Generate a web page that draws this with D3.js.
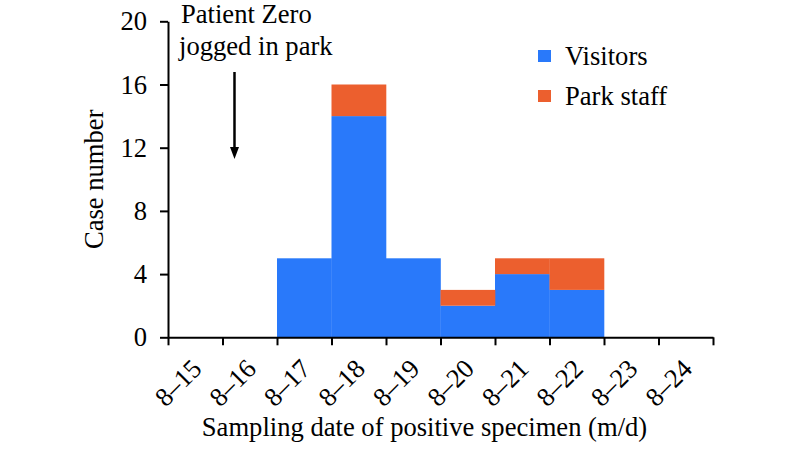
<!DOCTYPE html>
<html>
<head>
<meta charset="utf-8">
<script src="https://cdn.jsdelivr.net/npm/d3@7"></script>
<style>
  html, body { margin: 0; padding: 0; background: #fff; }
  svg { display: block; }
  svg text { font-family: "Liberation Serif", Tinos, "Times New Roman", Times, "DejaVu Serif", serif; }
</style>
</head>
<body>
<svg id="chart" width="794" height="449"></svg>
<script>
const categories = ["8\u201315","8\u201316","8\u201317","8\u201318","8\u201319","8\u201320","8\u201321","8\u201322","8\u201323","8\u201324"];
const visitors   = [0, 0, 5, 14, 5, 2, 4, 3, 0, 0];
const parkStaff  = [0, 0, 0, 2, 0, 1, 1, 2, 0, 0];
const seriesNames = ["Visitors", "Park staff"];
const seriesColors = ["#2979FA", "#EC5F2E"];
const yTicks = [0, 4, 8, 12, 16, 20];
const yTitle = "Case number";
const xTitle = "Sampling date of positive specimen (m/d)";
const annotation = ["Patient Zero", "jogged in park"];
const annotationDay = 1.22; // position along x, in day units

const svg = d3.select("#chart");
const mLeft = 168, mRight = 713, mTop = 21.3, mBottom = 337.3;
const FS = 26.6;
const FF = '"Liberation Serif", Tinos, "Times New Roman", Times, "DejaVu Serif", serif';

const rows = categories.map((c, i) => ({cat: c, "Visitors": visitors[i], "Park staff": parkStaff[i]}));
const stacked = d3.stack().keys(seriesNames)(rows);

const x = d3.scaleBand().domain(categories).range([mLeft, mRight]).padding(0);
const xEdge = d3.scaleLinear().domain([0, categories.length]).range([mLeft, mRight]);
const y = d3.scaleLinear().domain([0, 20]).range([mBottom, mTop]);

// bars
stacked.forEach((s, si) => {
  svg.append("g").attr("fill", seriesColors[si])
    .selectAll("rect").data(s).join("rect")
    .attr("x", d => x(d.data.cat))
    .attr("width", x.bandwidth() + 0.3)
    .attr("y", d => y(d[1]))
    .attr("height", d => y(d[0]) - y(d[1]));
});

// y axis
const yAxis = svg.append("g").attr("transform", `translate(${mLeft},0)`)
  .call(d3.axisLeft(y).tickValues(yTicks).tickSize(8).tickPadding(13).tickSizeOuter(0));
yAxis.attr("font-family", FF).attr("font-size", FS);
yAxis.select(".domain").attr("stroke", "#000").attr("stroke-width", 2);
yAxis.selectAll(".tick line").attr("stroke", "#000").attr("stroke-width", 2);
yAxis.selectAll(".tick text").attr("fill", "#000");

// x axis (ticks at band edges)
const xAxis = svg.append("g").attr("transform", `translate(0,${mBottom})`)
  .call(d3.axisBottom(xEdge).tickValues(d3.range(categories.length + 1)).tickSize(8).tickFormat("").tickSizeOuter(0));
xAxis.select(".domain").attr("stroke", "#000").attr("stroke-width", 2);
xAxis.selectAll(".tick line").attr("stroke", "#000").attr("stroke-width", 2);

// x labels
svg.append("g").attr("font-family", FF).selectAll("text").data(categories).join("text")
  .attr("transform", d => `translate(${x(d) + x.bandwidth()/2 + 8},${mBottom + 33}) rotate(-45)`)
  .attr("text-anchor", "end")
  .attr("font-size", FS)
  .attr("fill", "#000")
  .text(d => d);

// axis titles
svg.append("text").attr("font-family", FF)
  .attr("x", (mLeft + mRight) / 2 - 16).attr("y", 436)
  .attr("text-anchor", "middle").attr("font-size", FS).text(xTitle);
svg.append("text").attr("font-family", FF)
  .attr("transform", `translate(103,${(mTop + mBottom) / 2}) rotate(-90)`)
  .attr("text-anchor", "middle").attr("font-size", FS).text(yTitle);

// legend
const lg = svg.append("g").attr("font-family", FF);
seriesNames.forEach((n, i) => {
  const yy = 56 + i * 40;
  lg.append("rect").attr("x", 538).attr("y", yy - 6).attr("width", 13).attr("height", 12).attr("fill", seriesColors[i]);
  lg.append("text").attr("x", 565).attr("y", yy + 9).attr("font-size", FS).text(n);
});

// annotation
const ax = xEdge(annotationDay);
svg.append("text").attr("font-family", FF).attr("x", 181).attr("y", 23).attr("font-size", FS).text(annotation[0]);
svg.append("text").attr("font-family", FF).attr("x", 179).attr("y", 55).attr("font-size", FS).text(annotation[1]);
svg.append("line").attr("x1", ax).attr("x2", ax).attr("y1", 72).attr("y2", 149)
  .attr("stroke", "#000").attr("stroke-width", 2.5);
svg.append("path")
  .attr("d", `M${ax - 4.5},147 L${ax + 4.5},147 L${ax},159 Z`)
  .attr("fill", "#000");
</script>
</body>
</html>
